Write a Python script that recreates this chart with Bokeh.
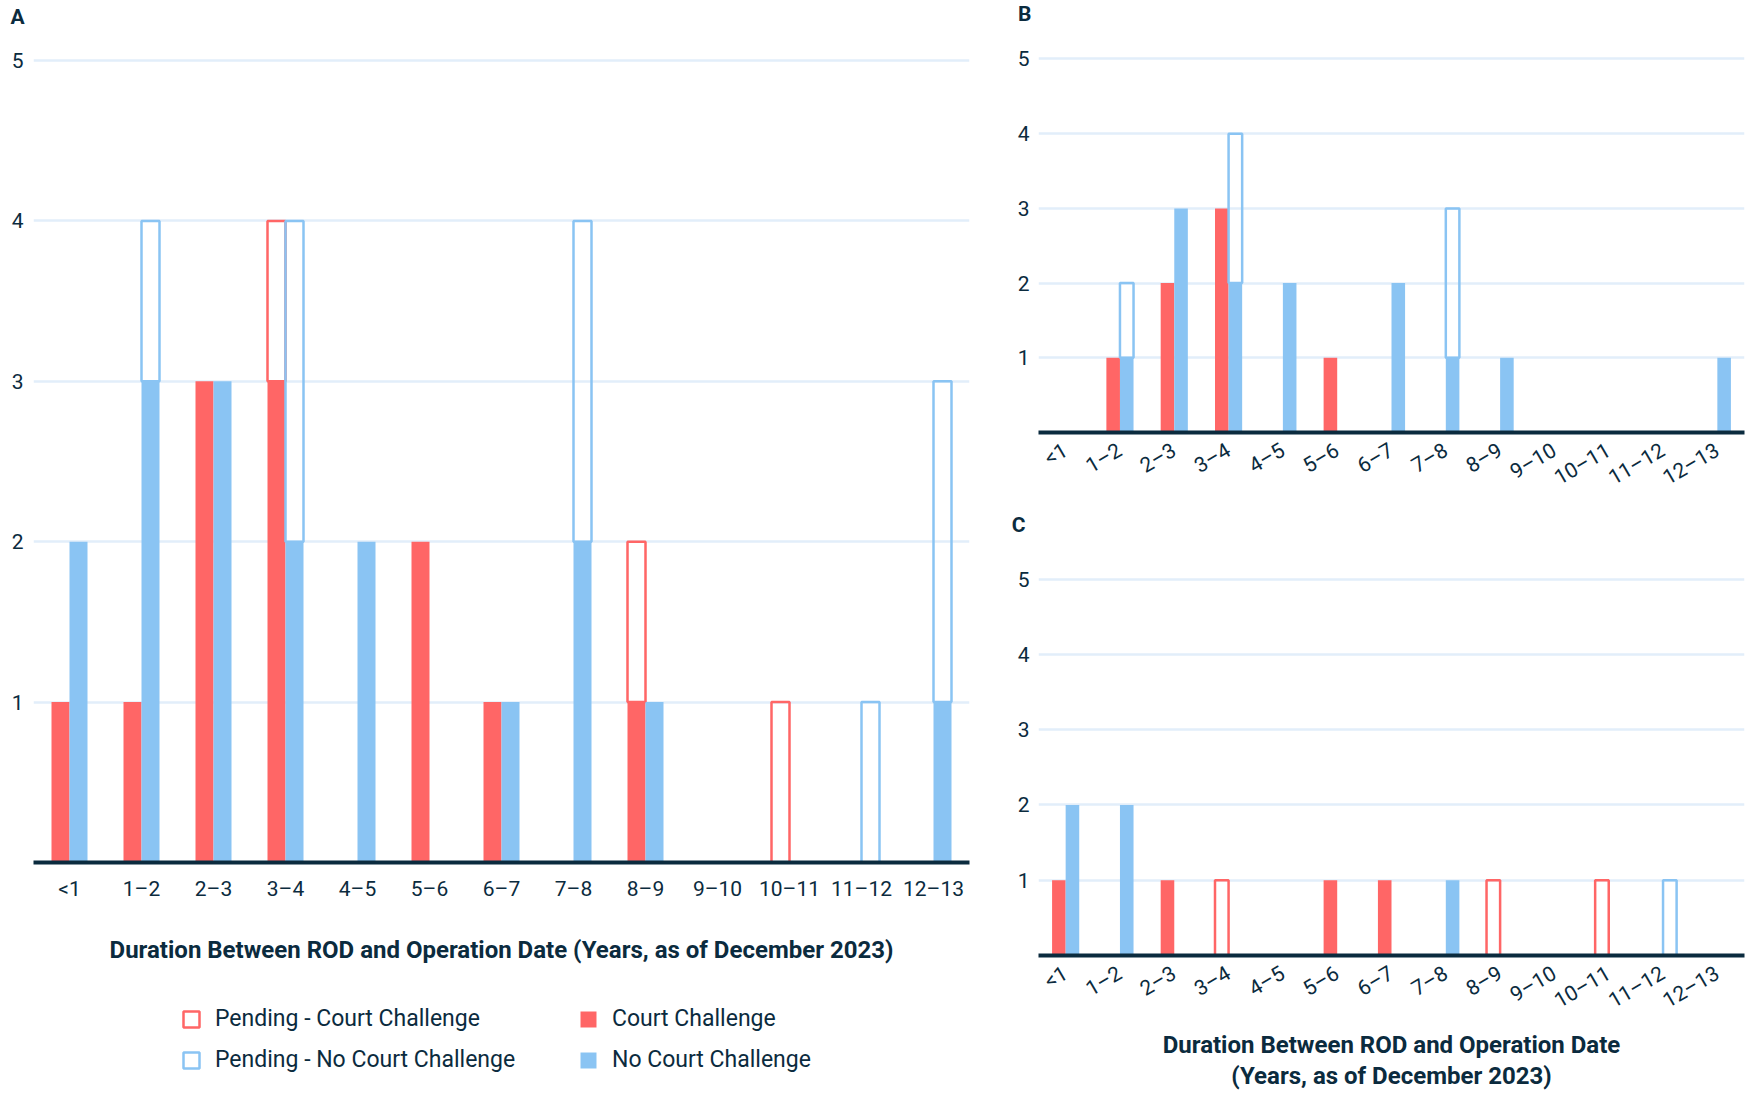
import math
import numpy as np
from bokeh.plotting import figure
from bokeh.models import (ColumnDataSource, FactorRange, Range1d, FixedTicker,
                          Legend, LegendItem)
from bokeh.transform import dodge
from bokeh.layouts import row, column
from bokeh.embed import file_html
from bokeh.resources import INLINE

# ---------------- data ----------------
categories = ["<1", "1\u20132", "2\u20133", "3\u20134", "4\u20135", "5\u20136", "6\u20137",
              "7\u20138", "8\u20139", "9\u201310", "10\u201311", "11\u201312", "12\u201313"]

a_court = [1, 1, 3, 3, 0, 2, 1, 0, 1, 0, 0, 0, 0]
a_pending_court = [0, 0, 0, 1, 0, 0, 0, 0, 1, 0, 1, 0, 0]
a_no_court = [2, 3, 3, 2, 2, 0, 1, 2, 1, 0, 0, 0, 1]
a_pending_no_court = [0, 1, 0, 2, 0, 0, 0, 2, 0, 0, 0, 1, 2]

b_court = [0, 1, 2, 3, 0, 1, 0, 0, 0, 0, 0, 0, 0]
b_pending_court = [0, 0, 0, 0, 0, 0, 0, 0, 0, 0, 0, 0, 0]
b_no_court = [0, 1, 3, 2, 2, 0, 2, 1, 1, 0, 0, 0, 1]
b_pending_no_court = [0, 1, 0, 2, 0, 0, 0, 2, 0, 0, 0, 0, 0]

c_court = [1, 0, 1, 0, 0, 1, 1, 0, 0, 0, 0, 0, 0]
c_pending_court = [0, 0, 0, 1, 0, 0, 0, 0, 1, 0, 1, 0, 0]
c_no_court = [2, 2, 0, 0, 0, 0, 0, 1, 0, 0, 0, 0, 0]
c_pending_no_court = [0, 0, 0, 0, 0, 0, 0, 0, 0, 0, 0, 1, 0]

y_ticks = [1, 2, 3, 4, 5]
panel_letters = ["A", "B", "C"]
x_title_a = "Duration Between ROD and Operation Date (Years, as of December 2023)"
x_title_c = "Duration Between ROD and Operation Date\n(Years, as of December 2023)"
legend_labels = ["Pending - Court Challenge", "Pending - No Court Challenge",
                 "Court Challenge", "No Court Challenge"]

# ---------------- style ----------------
RED = "#FF6666"
BLUE = "#8AC4F3"
NAVY = "#0B2B3E"
GRID = "#E2EEFA"
FONT = "Roboto"


def seg_source(base, extra):
    cats, bot, top = [], [], []
    for c, b, e in zip(categories, base, extra):
        if e > 0:
            cats.append(c)
            bot.append(b)
            top.append(b + e)
    return ColumnDataSource(dict(cat=cats, bottom=bot, top=top))


def add_bars(p, court, pend_court, no_court, pend_no_court):
    left = dodge("cat", -0.125, range=p.x_range)
    right = dodge("cat", 0.125, range=p.x_range)
    zeros = [0] * len(categories)
    r_court = p.vbar(x=left, bottom="bottom", top="top", width=0.25,
                     source=seg_source(zeros, court), fill_color=RED, line_color=None)
    r_pc = p.vbar(x=left, bottom="bottom", top="top", width=0.25,
                  source=seg_source(court, pend_court), fill_color=None,
                  line_color=RED, line_width=2.5)
    r_nc = p.vbar(x=right, bottom="bottom", top="top", width=0.25,
                  source=seg_source(zeros, no_court), fill_color=BLUE, line_color=None)
    r_pnc = p.vbar(x=right, bottom="bottom", top="top", width=0.25,
                   source=seg_source(no_court, pend_no_court), fill_color=None,
                   line_color=BLUE, line_width=2.5)
    return r_court, r_pc, r_nc, r_pnc


def letter_strip(text, width, height, standoff):
    # the panel letter is the single category label of a thin strip's y axis,
    # which sits just left of the (column-aligned) plotting area
    s = figure(y_range=FactorRange(text), x_range=Range1d(0, 1),
               width=width, height=height, output_backend="svg", toolbar_location=None,
               x_axis_location=None, min_border_left=0,
               min_border_right=0, min_border_top=0, min_border_bottom=0)
    s.outline_line_color = None
    s.grid.visible = False
    ax = s.yaxis[0]
    ax.axis_line_color = None
    ax.major_tick_line_color = None
    ax.minor_tick_line_color = None
    ax.major_tick_out = 0
    ax.major_tick_in = 0
    ax.major_label_standoff = standoff
    ax.major_label_text_font = FONT
    ax.major_label_text_font_style = "bold"
    ax.major_label_text_font_size = "21px"
    ax.major_label_text_color = NAVY
    return s


def make_panel(court, pend_court, no_court, pend_no_court, width, height,
               mb_left, mb_right, mb_top, mb_bottom, tick_size, orient,
               title, title_size, label_standoff, title_standoff, ylabel_standoff,
               line_height=1.2):
    p = figure(x_range=FactorRange(*categories), y_range=Range1d(0, 5.1),
               width=width, height=height, output_backend="svg",
               toolbar_location=None, min_border_left=mb_left,
               min_border_right=mb_right, min_border_top=mb_top,
               min_border_bottom=mb_bottom)
    p.outline_line_color = None
    p.background_fill_color = "white"
    p.border_fill_color = "white"

    add_bars(p, court, pend_court, no_court, pend_no_court)

    p.xgrid.grid_line_color = None
    p.ygrid.ticker = FixedTicker(ticks=y_ticks)
    p.ygrid.grid_line_color = GRID
    p.ygrid.grid_line_width = 2.5
    p.ygrid.level = "underlay"

    p.yaxis.ticker = FixedTicker(ticks=y_ticks)
    p.yaxis.axis_line_color = None
    p.yaxis.major_tick_line_color = None
    p.yaxis.minor_tick_line_color = None
    p.yaxis.major_tick_out = 0
    p.yaxis.major_tick_in = 0
    p.yaxis.minor_tick_out = 0
    p.yaxis.major_label_text_font = FONT
    p.yaxis.major_label_text_font_size = tick_size
    p.yaxis.major_label_text_color = NAVY
    p.yaxis.major_label_standoff = ylabel_standoff

    p.xaxis.axis_line_color = NAVY
    p.xaxis.axis_line_width = 4
    p.xaxis.major_tick_line_color = None
    p.xaxis.minor_tick_line_color = None
    p.xaxis.major_tick_out = 0
    p.xaxis.major_tick_in = 0
    p.xaxis.minor_tick_out = 0
    p.xaxis.major_label_text_font = FONT
    p.xaxis.major_label_text_font_size = tick_size
    p.xaxis.major_label_text_color = NAVY
    p.xaxis.major_label_standoff = label_standoff
    if orient is not None:
        p.xaxis.major_label_orientation = orient
    if title:
        p.xaxis.axis_label = title
        p.xaxis.axis_label_text_font = FONT
        p.xaxis.axis_label_text_font_style = "bold"
        p.xaxis.axis_label_text_font_size = title_size
        p.xaxis.axis_label_text_color = NAVY
        p.xaxis.axis_label_text_line_height = line_height
        p.xaxis.axis_label_standoff = title_standoff
    return p


# ---------------- panel A ----------------
sA = letter_strip(panel_letters[0], 1000, 32, 9)
pA = make_panel(
    a_court, a_pending_court, a_no_court, a_pending_no_court,
    width=1000, height=943, mb_left=33, mb_right=31, mb_top=12, mb_bottom=113,
    tick_size="21px", orient=None,
    title=x_title_a, title_size="24px", label_standoff=14, title_standoff=32,
    ylabel_standoff=10)

# legend strip: legend-only proxies (one undrawable point each, so no visible mark)
pL = figure(x_range=Range1d(0, 1), y_range=Range1d(0, 1),
            width=1000, height=118, output_backend="svg", toolbar_location=None,
            x_axis_location=None, y_axis_location=None,
            min_border_left=0, min_border_right=0, min_border_top=0, min_border_bottom=0)
pL.outline_line_color = None
pL.grid.visible = False
proxy = ColumnDataSource(dict(x=np.array([np.nan]), top=np.array([np.nan])))
l_pc = pL.vbar(x="x", top="top", width=0.1, source=proxy, fill_color=None,
               line_color=RED, line_width=2.5)
l_pnc = pL.vbar(x="x", top="top", width=0.1, source=proxy, fill_color=None,
                line_color=BLUE, line_width=2.5)
l_c = pL.vbar(x="x", top="top", width=0.1, source=proxy, fill_color=RED, line_color=None)
l_nc = pL.vbar(x="x", top="top", width=0.1, source=proxy, fill_color=BLUE, line_color=None)
legend = Legend(items=[LegendItem(label=legend_labels[0], renderers=[l_pc]),
                       LegendItem(label=legend_labels[1], renderers=[l_pnc]),
                       LegendItem(label=legend_labels[2], renderers=[l_c]),
                       LegendItem(label=legend_labels[3], renderers=[l_nc])],
                location=(148, 20), orientation="vertical", ncols=2,
                glyph_width=20, glyph_height=20, label_standoff=14,
                label_width=349, label_height=26, spacing=14, padding=5, margin=0,
                label_text_font=FONT, label_text_font_size="23px",
                label_text_color=NAVY, background_fill_alpha=0,
                border_line_color=None)
pL.add_layout(legend, "center")

# ---------------- panels B and C ----------------
sB = letter_strip(panel_letters[1], 747, 26, 7)
pB = make_panel(
    b_court, b_pending_court, b_no_court, b_pending_no_court,
    width=747, height=486, mb_left=38, mb_right=3, mb_top=25, mb_bottom=80,
    tick_size="21px", orient=0.53,
    title=None, title_size=None, label_standoff=16, title_standoff=0,
    ylabel_standoff=9)

sC = letter_strip(panel_letters[2], 747, 24, 13)
pC = make_panel(
    c_court, c_pending_court, c_no_court, c_pending_no_court,
    width=747, height=557, mb_left=38, mb_right=3, mb_top=35, mb_bottom=138,
    tick_size="21px", orient=0.53,
    title=x_title_c, title_size="24px", label_standoff=16, title_standoff=5,
    ylabel_standoff=9, line_height=1.12)

layout = row(column(sA, pA, pL), column(sB, pB, sC, pC))

with open("out.html", "w") as f:
    f.write(file_html(layout, INLINE))
